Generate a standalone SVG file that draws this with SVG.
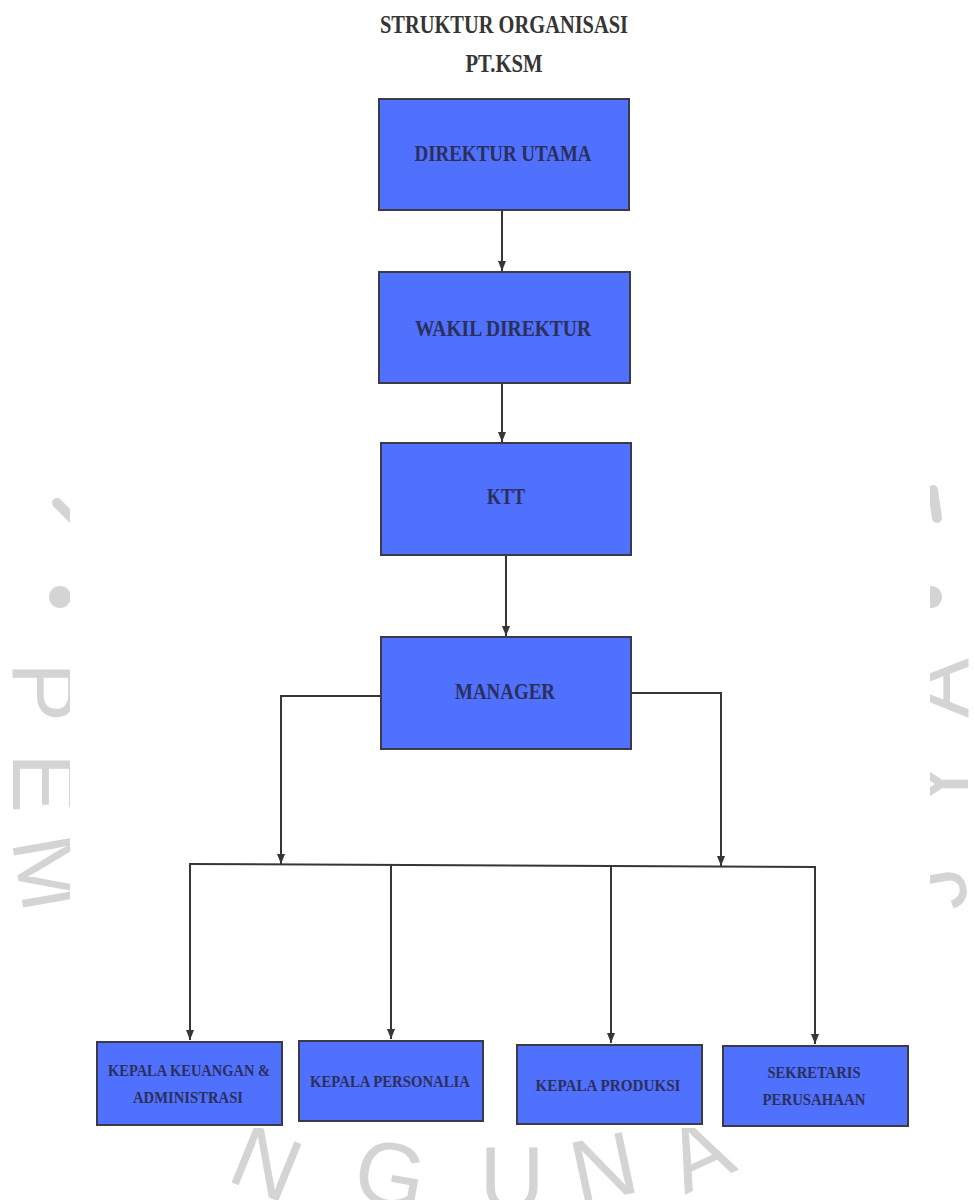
<svg xmlns="http://www.w3.org/2000/svg" width="975" height="1200" viewBox="0 0 975 1200">
<style>
  .wm { font-family: "Liberation Sans", Arial, sans-serif; font-size: 90px; fill: #d4d4d4; text-anchor: middle; }
  .box { fill: #5070fe; stroke: #3a3a48; stroke-width: 2; }
  .lbl { font-family: "Liberation Serif", "Times New Roman", serif; font-weight: bold; fill: #2b2f5a; text-anchor: middle; }
  .big { font-size: 24px; }
  .small { font-size: 17px; }
  .title { font-family: "Liberation Serif", "Times New Roman", serif; font-weight: bold; fill: #353535; text-anchor: middle; font-size: 26px; }
  .con { fill: none; stroke: #3a3434; stroke-width: 2; }
</style>
<defs>
  <marker id="arr" markerUnits="userSpaceOnUse" markerWidth="10" markerHeight="10" refX="10" refY="5" orient="auto">
    <path d="M0,1 L10,5 L0,9 z" fill="#3a3434"/>
  </marker>
</defs>
<rect x="0" y="0" width="975" height="1200" fill="#ffffff"/>
<g id="watermark">
  <line x1="57" y1="503" x2="72" y2="518" stroke="#d4d4d4" stroke-width="10" stroke-linecap="round"/>
  <circle cx="60" cy="597" r="11" fill="#d4d4d4"/>
  <text class="wm" transform="translate(13,692) rotate(90)">P</text>
  <text class="wm" transform="translate(13,783) rotate(90)">E</text>
  <text class="wm" transform="translate(18,878) rotate(80)">M</text>
  <line x1="933" y1="490" x2="937" y2="518" stroke="#d4d4d4" stroke-width="10" stroke-linecap="round"/>
  <circle cx="931" cy="597" r="11" fill="#d4d4d4"/>
  <text class="wm" transform="translate(968,688) rotate(-90)">A</text>
  <text class="wm" transform="translate(968,784) rotate(-90)">Y</text>
  <text class="wm" transform="translate(965,885) rotate(-100)">J</text>
  <text class="wm" transform="translate(255,1192) rotate(22)">N</text>
  <text class="wm" transform="translate(385,1205) rotate(10)">G</text>
  <text class="wm" transform="translate(512,1210) rotate(0)">U</text>
  <text class="wm" transform="translate(610,1198) rotate(-12)">N</text>
  <text class="wm" transform="translate(712,1182) rotate(-25)">A</text>
  <rect x="70" y="0" width="860" height="1128" fill="#ffffff"/>
</g>
<g id="title">
  <text class="title" x="504" y="33" textLength="248" lengthAdjust="spacingAndGlyphs">STRUKTUR ORGANISASI</text>
  <text class="title" x="504" y="72" textLength="77" lengthAdjust="spacingAndGlyphs">PT.KSM</text>
</g>
<g id="connectors">
  <line class="con" x1="502" y1="211" x2="502" y2="271" marker-end="url(#arr)"/>
  <line class="con" x1="502" y1="384" x2="502" y2="442" marker-end="url(#arr)"/>
  <line class="con" x1="506" y1="556" x2="506" y2="636" marker-end="url(#arr)"/>
  <polyline class="con" points="381,696 281,696 281,864" marker-end="url(#arr)"/>
  <polyline class="con" points="631,693 721,693 721,866" marker-end="url(#arr)"/>
  <line class="con" x1="189" y1="864" x2="816" y2="867"/>
  <line class="con" x1="190" y1="864" x2="190" y2="1040" marker-end="url(#arr)"/>
  <line class="con" x1="391" y1="865" x2="391" y2="1039" marker-end="url(#arr)"/>
  <line class="con" x1="611" y1="866" x2="611" y2="1043" marker-end="url(#arr)"/>
  <line class="con" x1="815" y1="867" x2="815" y2="1044" marker-end="url(#arr)"/>
</g>
<g id="direktur-utama">
  <rect class="box" x="379" y="99" width="250" height="111"/>
  <text class="lbl big" x="503" y="161" textLength="177" lengthAdjust="spacingAndGlyphs">DIREKTUR UTAMA</text>
</g>
<g id="wakil-direktur">
  <rect class="box" x="379" y="272" width="251" height="111"/>
  <text class="lbl big" x="503" y="336" textLength="176" lengthAdjust="spacingAndGlyphs">WAKIL DIREKTUR</text>
</g>
<g id="ktt">
  <rect class="box" x="381" y="443" width="250" height="112"/>
  <text class="lbl big" x="506" y="504" textLength="38" lengthAdjust="spacingAndGlyphs">KTT</text>
</g>
<g id="manager">
  <rect class="box" x="381" y="637" width="250" height="112"/>
  <text class="lbl big" x="505" y="699" textLength="100" lengthAdjust="spacingAndGlyphs">MANAGER</text>
</g>
<g id="kepala-keuangan">
  <rect class="box" x="97" y="1042" width="185" height="83"/>
  <text class="lbl small" x="189" y="1076" textLength="162" lengthAdjust="spacingAndGlyphs">KEPALA KEUANGAN &amp;</text>
  <text class="lbl small" x="188" y="1103" textLength="110" lengthAdjust="spacingAndGlyphs">ADMINISTRASI</text>
</g>
<g id="kepala-personalia">
  <rect class="box" x="299" y="1041" width="184" height="80"/>
  <text class="lbl small" x="390" y="1087" textLength="160" lengthAdjust="spacingAndGlyphs">KEPALA PERSONALIA</text>
</g>
<g id="kepala-produksi">
  <rect class="box" x="517" y="1045" width="185" height="79"/>
  <text class="lbl small" x="608" y="1091" textLength="145" lengthAdjust="spacingAndGlyphs">KEPALA PRODUKSI</text>
</g>
<g id="sekretaris-perusahaan">
  <rect class="box" x="723" y="1046" width="185" height="80"/>
  <text class="lbl small" x="814" y="1078" textLength="93" lengthAdjust="spacingAndGlyphs">SEKRETARIS</text>
  <text class="lbl small" x="814" y="1105" textLength="103" lengthAdjust="spacingAndGlyphs">PERUSAHAAN</text>
</g>
</svg>
